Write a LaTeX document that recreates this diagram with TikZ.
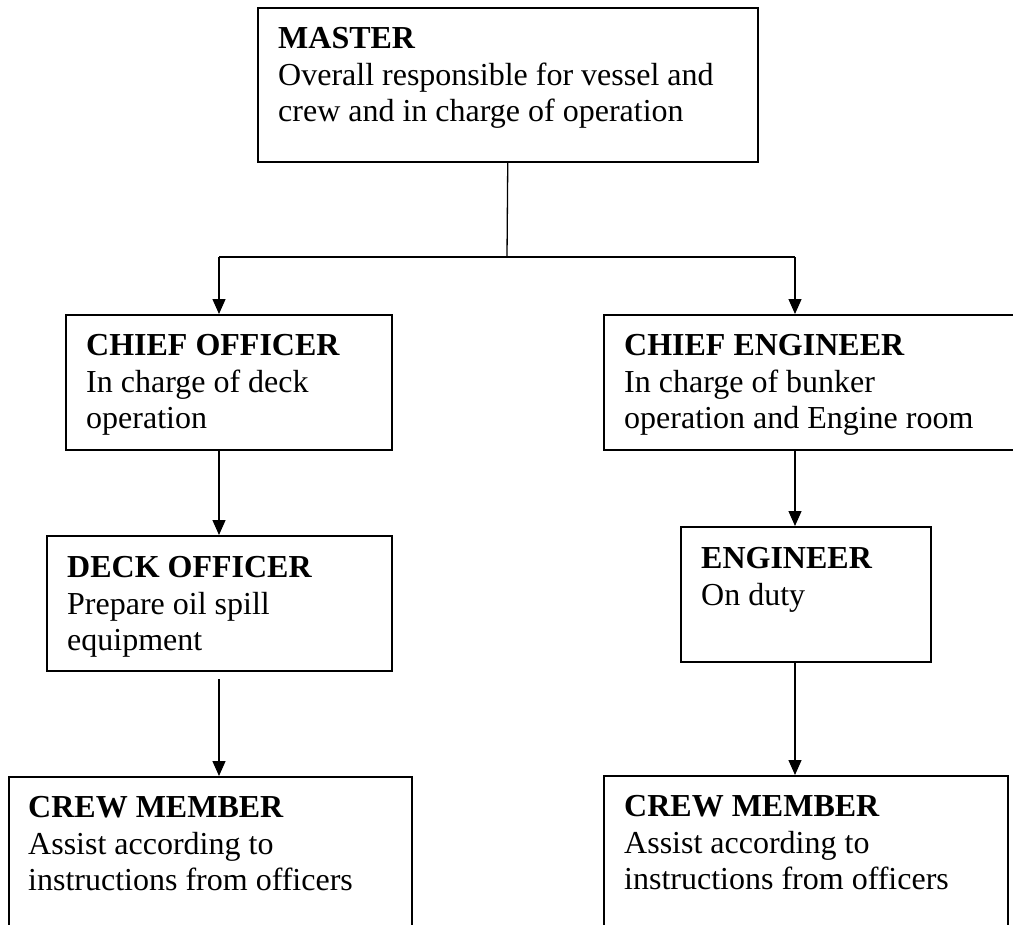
\documentclass[tikz,border=0pt]{standalone}
\usepackage{fontspec}
\setmainfont{Liberation Serif}
\usetikzlibrary{arrows.meta}
\tikzset{
  box/.style={draw=black, line width=1.5bp, rectangle, inner sep=0pt, anchor=north west},
  txt/.style={inner sep=0pt, anchor=north west, align=left, font=\fontsize{32bp}{36.8bp}\selectfont},
  conn/.style={line width=1.3bp},
  arr/.style={line width=1.3bp, -{Triangle[length=15bp,width=13bp]}}
}
\begin{document}
\begin{tikzpicture}[x=1bp, y=-1bp]
\useasboundingbox (0,0) rectangle (1013,925);
\fill[white] (0,0) rectangle (1013,925);
\clip (0,0) rectangle (1013,925);
% boxes
\node[box, minimum width=500bp, minimum height=154bp] (master) at (257,7) {};
\node[box, minimum width=326bp, minimum height=135bp] (chiefoff) at (65,314) {};
\node[box, minimum width=430bp, minimum height=135bp] (chiefeng) at (603,314) {};
\node[box, minimum width=345bp, minimum height=135bp] (deckoff) at (46,535) {};
\node[box, minimum width=250bp, minimum height=135bp] (engineer) at (680,526) {};
\node[box, minimum width=403bp, minimum height=180bp] (crewl) at (8,776) {};
\node[box, minimum width=404bp, minimum height=180bp] (crewr) at (603,775) {};
% texts
\node[txt] (tmaster) at (278,27) {\textbf{MASTER}\\Overall responsible for vessel and\\crew and in charge of operation};
\node[txt] (tchiefoff) at (86,334) {\textbf{CHIEF OFFICER}\\In charge of deck\\operation};
\node[txt] (tchiefeng) at (624,334) {\textbf{CHIEF ENGINEER}\\In charge of bunker\\operation and Engine room};
\node[txt] (tdeckoff) at (67,556) {\textbf{DECK OFFICER}\\Prepare oil spill\\equipment};
\node[txt] (tengineer) at (701,547) {\textbf{ENGINEER}\\On duty};
\node[txt] (tcrewl) at (28,796) {\textbf{CREW MEMBER}\\Assist according to\\instructions from officers};
\node[txt] (tcrewr) at (624,795) {\textbf{CREW MEMBER}\\Assist according to\\instructions from officers};
% connectors
\coordinate (j) at (507,257);
\coordinate (jl) at (219,257);
\coordinate (jr) at (795,257);
\coordinate (dstart) at (219,679);
\draw[conn] (master.south) -- (j);
\draw[conn] (jl) -- (jr);
\draw[arr] (jl) -- (jl |- chiefoff.north);
\draw[arr] (jr) -- (jr |- chiefeng.north);
\draw[arr] (jl |- chiefoff.south) -- (jl |- deckoff.north);
\draw[arr] (jr |- chiefeng.south) -- (jr |- engineer.north);
\draw[arr] (dstart) -- (dstart |- crewl.north);
\draw[arr] (jr |- engineer.south) -- (jr |- crewr.north);
\end{tikzpicture}
\end{document}
